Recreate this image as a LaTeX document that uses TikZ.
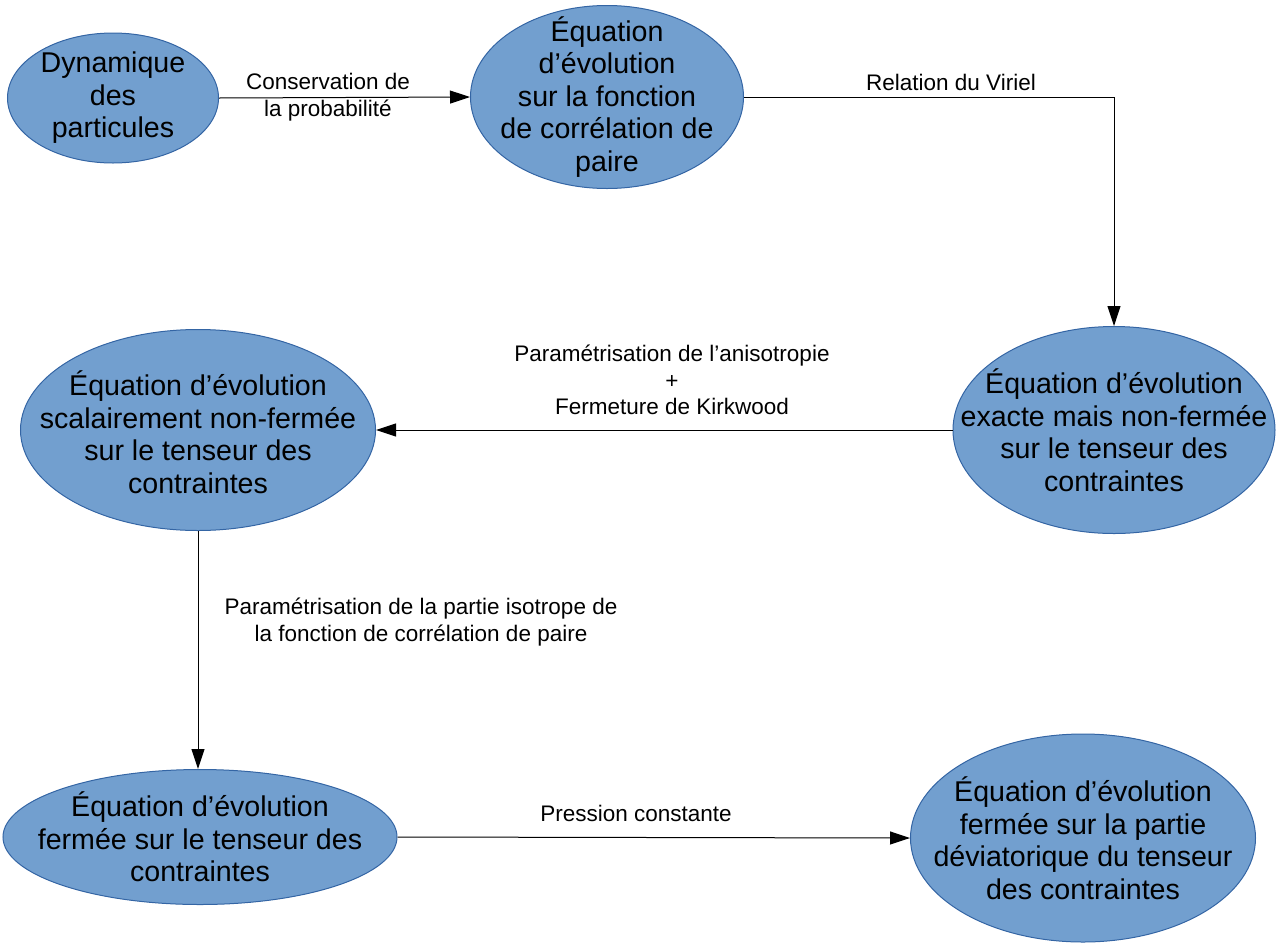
\documentclass[tikz,border=0pt]{standalone}
\usepackage{fontspec}
\setmainfont{Liberation Sans}
\usetikzlibrary{shapes.geometric,arrows.meta}
\definecolor{efill}{HTML}{729FCF}
\definecolor{eline}{HTML}{3465A4}
\begin{document}
\begin{tikzpicture}[x=1pt,y=-1pt,
  bubble/.style={ellipse,draw=eline,fill=efill,line width=1pt,inner sep=0pt},
  btext/.style={align=center,inner sep=0pt,font=\fontsize{28.6}{32.5}\selectfont},
  conn/.style={draw=black,line width=1pt,-{Triangle[length=20pt,width=13pt]}},
  lbl/.style={align=center,font=\fontsize{22.5}{26.5}\selectfont,inner sep=0pt}]
\useasboundingbox (0,0) rectangle (1282,943);
\node[bubble,minimum width=211pt,minimum height=130pt] (e1) at (113,98) {};
\node[bubble,minimum width=273pt,minimum height=183pt] (e2) at (607,97) {};
\node[bubble,minimum width=322pt,minimum height=207pt] (e3) at (1114,430) {};
\node[bubble,minimum width=355pt,minimum height=201pt] (e4) at (198,430) {};
\node[bubble,minimum width=394pt,minimum height=135pt] (e5) at (200,837) {};
\node[bubble,minimum width=345pt,minimum height=208pt] (e6) at (1083,838) {};
\node[btext] (t1) at (e1) {Dynamique\\des\\particules};
\node[btext] (t2) at (e2) {Équation\\d’évolution\\sur la fonction\\de corrélation de\\paire};
\node[btext] (t3) at (e3) {Équation d’évolution\\exacte mais non-fermée\\sur le tenseur des\\contraintes};
\node[btext] (t4) at ([yshift=-2pt]e4.center) {Équation d’évolution\\scalairement non-fermée\\sur le tenseur des\\contraintes};
\node[btext] (t5) at (e5) {Équation d’évolution\\fermée sur le tenseur des\\contraintes};
\node[btext] (t6) at (e6) {Équation d’évolution\\fermée sur la partie\\déviatorique du tenseur\\des contraintes};
\draw[conn] (e1.east) -- (e2.west);
\draw[conn] (e2.east) -| (e3.north);
\draw[conn] (e3.west) -- (e4.east);
\draw[conn] (e4.south) -- (e4.south |- e5.north);
\draw[conn] (e5.east) -- (e6.west);
\node[lbl] (l1) at (328,97) {Conservation de\\la probabilité};
\node[lbl] (l2) at (951,82) {Relation du Viriel};
\node[lbl] (l3) at (672,380) {Paramétrisation de l’anisotropie\\+\\Fermeture de Kirkwood};
\node[lbl] (l4) at (421,622) {Paramétrisation de la partie isotrope de\\la fonction de corrélation de paire};
\node[lbl] (l5) at (636,813) {Pression constante};
\end{tikzpicture}
\end{document}
